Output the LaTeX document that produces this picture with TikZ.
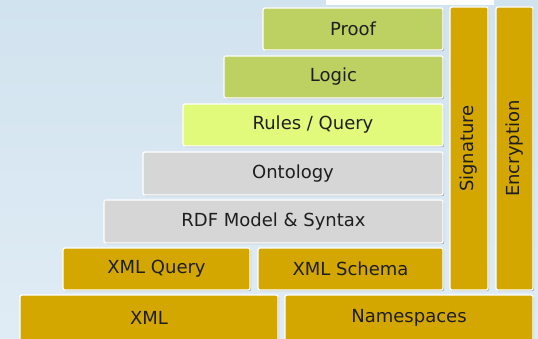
\documentclass[tikz,border=0pt]{standalone}
\usepackage{fontspec}
\setmainfont{DejaVu Sans}
\usetikzlibrary{shadows}
\definecolor{bgtop}{HTML}{D1E3EF}
\definecolor{bgbot}{HTML}{E0ECF5}
\definecolor{gold}{HTML}{D4A700}
\definecolor{leaf}{HTML}{BDD062}
\definecolor{lime}{HTML}{E2FA7C}
\definecolor{stone}{HTML}{D6D6D6}
\definecolor{txt}{HTML}{1E1E1E}
\tikzset{
  lbl/.style={text=txt, font=\fontsize{18}{20}\selectfont},
  layer/.style={draw=white, line width=1.2pt, rounded corners=2pt,
    drop shadow={shadow xshift=1.2pt, shadow yshift=-1.2pt, opacity=0.45, fill=black!55},
    lbl, inner sep=0pt},
}
\begin{document}
\begin{tikzpicture}[x=1pt,y=-1pt]
  % backdrop
  \shade[top color=bgtop, bottom color=bgbot] (0,0) rectangle (538,339);
  \useasboundingbox (0,0) rectangle (538,339);
  \fill[white] (326,0) rectangle (494,5);
  % stacked layers: Proof ... XML
  \node[layer, fill=leaf, minimum width=180pt, minimum height=42pt] (proof) at (353,29) {Proof};
  \node[layer, fill=leaf, minimum width=219pt, minimum height=42pt] (logic) at (333.5,77) {Logic};
  \node[layer, fill=lime, minimum width=260pt, minimum height=42pt] (rules) at (313,125) {Rules / Query};
  \node[layer, fill=stone, minimum width=300pt, minimum height=43pt] (onto) at (293,173.5) {Ontology};
  \node[layer, fill=stone, minimum width=339pt, minimum height=43pt] (rdf) at (273.5,221.5) {RDF Model \& Syntax};
  \node[layer, fill=gold, minimum width=187pt, minimum height=42pt] (xq) at (156.5,269) {XML Query};
  \node[layer, fill=gold, minimum width=185pt, minimum height=42pt] (xs) at (350.5,269) {XML Schema};
  \node[layer, fill=gold, minimum width=258pt, minimum height=46pt] (xml) at (149,318) {XML};
  \node[layer, fill=gold, minimum width=248pt, minimum height=46pt] (ns) at (409,318) {Namespaces};
  % vertical columns
  \node[layer, fill=gold, minimum width=38pt, minimum height=283pt] (sig) at (469,148.5) {};
  \node[layer, fill=gold, minimum width=37pt, minimum height=283pt] (enc) at (514.5,148.5) {};
  \node[rotate=90, lbl] at (sig) {Signature};
  \node[rotate=90, lbl] at (enc) {Encryption};
\end{tikzpicture}
\end{document}
